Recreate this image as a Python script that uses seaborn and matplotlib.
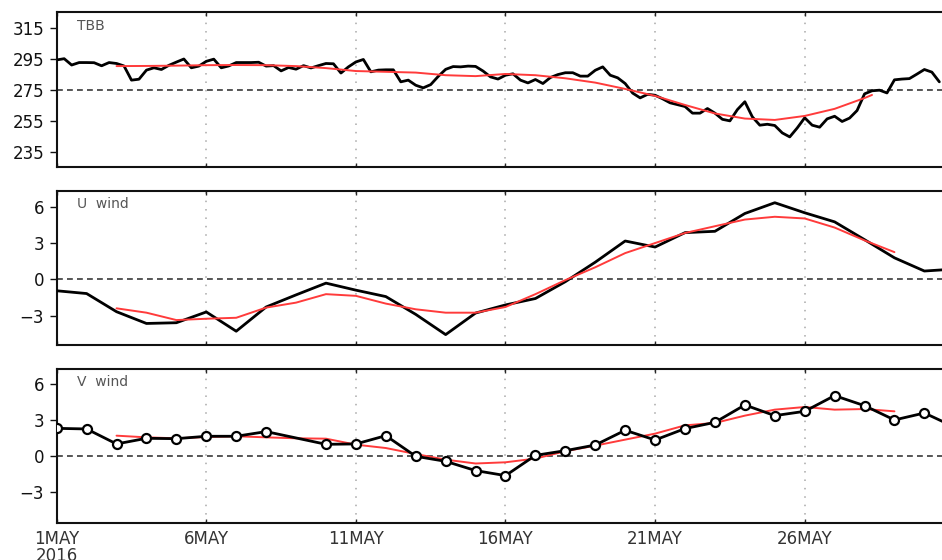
import numpy as np
import pandas as pd
import matplotlib
matplotlib.use("Agg")
import matplotlib.pyplot as plt
import seaborn as sns

# 6-hourly cloud-top brightness temperature (K), starting 00Z 1 May 2016
tbb = [
    294.5, 295.3, 291.2, 292.8, 292.8, 292.7, 290.7, 292.8, 292.2, 290.6,
    281.4, 282.0, 287.9, 289.4, 288.3, 291.0, 293.1, 295.1, 289.4, 290.5,
    293.6, 295.0, 289.4, 290.6, 292.8, 292.8, 292.8, 293.0, 290.5, 290.8,
    287.4, 289.6, 288.5, 290.8, 289.3, 290.8, 292.2, 292.0, 286.0, 290.0,
    293.2, 294.8, 286.8, 287.9, 288.1, 288.1, 280.3, 281.4, 278.1, 276.4,
    278.5, 283.8, 288.4, 290.2, 290.0, 290.5, 290.3, 287.3, 283.5, 282.1,
    284.6, 285.5, 281.4, 279.6, 281.8, 279.2, 283.1, 285.0, 286.2, 286.2,
    284.0, 284.0, 287.8, 290.0, 284.6, 282.9, 279.2, 273.0, 269.9, 272.2,
    271.6, 269.3, 266.7, 265.5, 264.3, 260.0, 260.0, 263.0, 260.0, 256.0,
    255.0, 262.3, 267.4, 257.6, 252.2, 252.8, 252.0, 247.2, 244.6, 250.4,
    257.0, 252.2, 250.9, 256.3, 258.0, 254.6, 256.8, 261.7, 272.5, 274.5,
    274.9, 273.1, 281.6, 282.1, 282.4, 285.3, 288.3, 286.6, 280.3,
]
# smoothed TBB (days after 1 May)
tbb_mean_days = [2, 3, 4, 5, 6, 7, 8, 9, 10, 11, 12, 13, 14, 15, 16, 17,
                 18, 19, 20, 21, 22, 23, 24, 25, 26, 27, 27.25]
tbb_mean = [290.5, 290.6, 290.8, 291.1, 291.2, 291.1, 290.5, 289.2, 287.3,
            286.8, 286.3, 284.6, 284.0, 285.4, 284.6, 282.6, 279.8, 275.7,
            271.2, 265.3, 259.8, 256.5, 255.6, 258.2, 262.8, 269.8, 271.8]

# daily zonal wind (m/s), 1-31 May
u_wind = [-0.94, -1.17, -2.67, -3.64, -3.58, -2.69, -4.28, -2.28, -1.28, -0.31,
          -0.89, -1.42, -2.89, -4.56, -2.78, -2.11, -1.58, -0.19, 1.42, 3.17,
          2.67, 3.86, 3.97, 5.44, 6.33, 5.50, 4.75, 3.28, 1.78, 0.69, 0.85]
mean_days = list(range(2, 29))
u_mean = [-2.39, -2.75, -3.36, -3.25, -3.17, -2.33, -1.92, -1.22, -1.36, -2.00,
          -2.47, -2.75, -2.75, -2.28, -1.22, -0.06, 1.00, 2.17, 3.00, 3.83,
          4.39, 4.94, 5.17, 5.03, 4.28, 3.22, 2.25]

# daily meridional wind (m/s); no record on 9 May
v_days = [0, 1, 2, 3, 4, 5, 6, 7, 9, 10, 11, 12, 13, 14, 15, 16, 17, 18, 19,
          20, 21, 22, 23, 24, 25, 26, 27, 28, 29, 30]
v_wind = [2.33, 2.28, 1.03, 1.50, 1.47, 1.67, 1.67, 2.06, 1.00, 1.03, 1.72,
          0.00, -0.42, -1.19, -1.61, 0.08, 0.47, 0.94, 2.17, 1.36, 2.31, 2.83,
          4.28, 3.39, 3.75, 5.06, 4.22, 3.03, 3.61, 2.45]
v_mean = [1.72, 1.58, 1.50, 1.61, 1.67, 1.58, 1.50, 1.47, 0.97, 0.69, 0.19,
          -0.28, -0.60, -0.50, -0.19, 0.42, 0.89, 1.39, 1.89, 2.58, 2.78, 3.39,
          3.89, 4.11, 3.89, 3.94, 3.75]

tick_days = [0, 5, 10, 15, 20, 25]
tick_labels = ["1MAY\n2016", "6MAY", "11MAY", "16MAY", "21MAY", "26MAY"]

tbb_days = np.arange(len(tbb)) * 0.25

sns.set_theme(style="ticks")
plt.rcParams["font.family"] = ["DejaVu Sans"]
plt.rcParams["axes.unicode_minus"] = True

fig = plt.figure(figsize=(9.42, 5.6), dpi=100)
px_day = 29.92
left = 56.7 / 942
width = 31 * px_day / 942

boxes = [(0.7018, 0.2763), (0.3839, 0.2755), (0.0661, 0.2750)]
axes = [fig.add_axes([left, b, width, h]) for b, h in boxes]

RED = "#ff3b3b"


def frame(ax, ylim, yticks, ref, label, bottom_labels):
    ax.set_xlim(0, 31)
    ax.set_ylim(*ylim)
    ax.set_yticks(yticks)
    for d in tick_days[1:]:
        ax.axvline(d, color="#a8a8a8", lw=1.1, ls=(0, (1, 4.5)), zorder=0)
    ax.axhline(ref, color="#3a3a3a", lw=1.2, ls=(0, (3.5, 2.5)), zorder=1)
    ax.set_xticks(tick_days)
    if bottom_labels:
        ax.set_xticklabels(tick_labels, fontsize=12, color="#333333",
                           linespacing=0.95)
    else:
        ax.set_xticklabels([])
    ax.tick_params(axis="x", direction="in", length=3, width=1,
                   top=True, bottom=True, pad=5)
    ax.tick_params(axis="y", direction="out", length=5, width=1,
                   labelsize=12, pad=4, colors="#111111")
    for s in ax.spines.values():
        s.set_linewidth(1.5)
        s.set_color("#111111")
    ax.set_xlabel("")
    ax.set_ylabel("")
    ax.annotate(label, xy=(0, 1), xycoords="axes fraction",
                xytext=(14.5, -4.5), textcoords="offset points",
                ha="left", va="top", fontsize=10, color="#555555")


# TBB
ax = axes[0]
sns.lineplot(x=tbb_days, y=tbb, ax=ax, color="black", lw=2, zorder=3)
sns.lineplot(x=tbb_mean_days, y=tbb_mean, ax=ax, color=RED, lw=1.4, zorder=4)
frame(ax, (225.1, 325.4), [235, 255, 275, 295, 315], 275, "TBB", False)

# U wind
ax = axes[1]
sns.lineplot(x=np.arange(len(u_wind)), y=u_wind, ax=ax, color="black",
             lw=2, zorder=3)
sns.lineplot(x=mean_days, y=u_mean, ax=ax, color=RED, lw=1.4, zorder=4)
frame(ax, (-5.42, 7.32), [-3, 0, 3, 6], 0, "U  wind", False)

# V wind
ax = axes[2]
sns.lineplot(x=mean_days, y=v_mean, ax=ax, color=RED, lw=1.4, zorder=3)
sns.lineplot(x=v_days, y=v_wind, ax=ax, color="black", lw=2, zorder=4,
             marker="o", markersize=6.5, markerfacecolor="white",
             markeredgecolor="black", markeredgewidth=1.6)
frame(ax, (-5.56, 7.28), [-3, 0, 3, 6], 0, "V  wind", True)

fig.savefig("out.png", dpi=100)
